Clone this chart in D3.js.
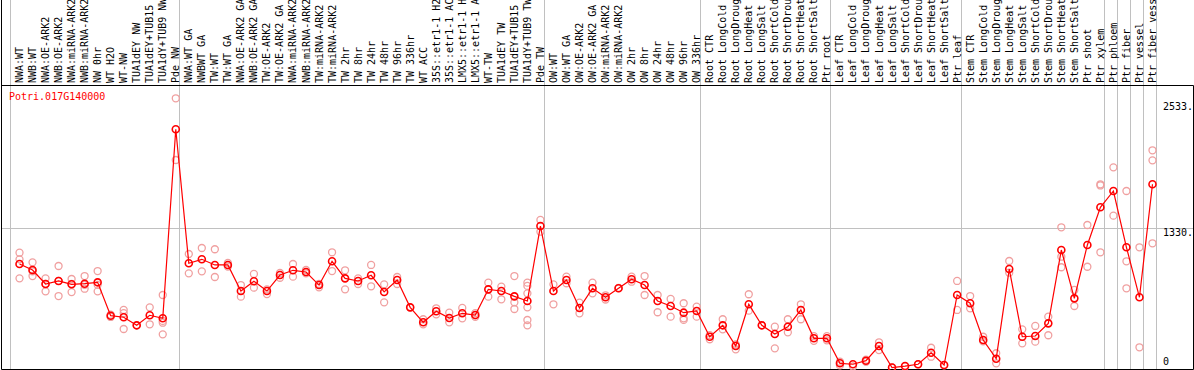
<!DOCTYPE html>
<html>
<head>
<meta charset="utf-8">
<script src="https://cdn.jsdelivr.net/npm/d3@7"></script>
<style>
  html, body { margin: 0; padding: 0; background: #fff; }
  svg { display: block; }
  text { font-family: "DejaVu Sans Mono", monospace; font-size: 10px; }
</style>
</head>
<body>
<svg id="chart" width="1194" height="370"></svg>
<script>
const geneName = "Potri.017G140000";

const categories = [
  "NWA:WT","NWB:WT","NWA:OE-ARK2","NWB:OE-ARK2","NWA:miRNA-ARK2","NWB:miRNA-ARK2","NW 0hr","WT H2O","WT-NW","TUA1dEY NW","TUA1dEY+TUB15","TUA1dY+TUB9 NW","Pde NW",
  "NWA:WT GA","NWBWT GA","TW:WT","TW:WT GA","NWA:OE-ARK2 GA","NWB:OE-ARK2 GA","TW:OE-ARK2","TW:OE-ARK2 GA","NWA:miRNA-ARK2 GA","NWB:miRNA-ARK2 GA","TW:miRNA-ARK2","TW:miRNA-ARK2 GA","TW 2hr","TW 8hr","TW 24hr","TW 48hr","TW 96hr","TW 336hr","WT ACC","35S::etr1-1 H2O","35S::etr1-1 ACC","LMX5::etr1-1 H2O","LMX5::etr1-1 ACC","WT-TW","TUA1dEY TW","TUA1dEY+TUB15","TUA1dY+TUB9 TW","Pde TW",
  "OW:WT","OW:WT GA","OW:OE-ARK2","OW:OE-ARK2 GA","OW:miRNA-ARK2","OW:miRNA-ARK2 GA","OW 2hr","OW 8hr","OW 24hr","OW 48hr","OW 96hr","OW 336hr",
  "Root CTR","Root LongCold","Root LongDrought","Root LongHeat","Root LongSalt","Root ShortCold","Root ShortDrought","Root ShortHeat","Root ShortSalt","Ptr root",
  "Leaf CTR","Leaf LongCold","Leaf LongDrought","Leaf LongHeat","Leaf LongSalt","Leaf ShortCold","Leaf ShortDrought","Leaf ShortHeat","Leaf ShortSalt","Ptr leaf",
  "Stem CTR","Stem LongCold","Stem LongDrought","Stem LongHeat","Stem LongSalt","Stem ShortCold","Stem ShortDrought","Stem ShortHeat","Stem ShortSalt","Ptr shoot","Ptr xylem",
  "Ptr phloem","Ptr fiber","Ptr vessel","Ptr fiber vessel"
];

// index of first category of each group
const groupStarts = [0, 13, 41, 53, 63, 73, 84, 85, 86, 87, 88];

const meanValues = [
  989, 932, 798, 827, 795, 801, 814, 495, 480, 403, 499, 470, 2277,
  996, 1034, 980, 980, 731, 824, 731, 884, 929, 913, 788, 1015, 852, 827, 881, 722, 836, 575, 432, 537, 473, 518, 502, 747, 731, 680, 636, 1352,
  731, 836, 569, 757, 671, 757, 843, 788, 636, 588, 524, 540,
  294, 403, 205, 604, 403, 320, 390, 550, 279, 279,
  40, 31, 65, 205, 0, 14, 31, 141, 24, 693,
  614, 263, 84, 941, 294, 301, 422, 1123, 661, 1171, 1531,
  1687, 1149, 671, 1751
];

const replicateValues = [
  [1097,1034,852],[1005,920,874],[852,728,800],[970,683,827],[846,721,800],[874,753,790],[922,728,790],[483,505],[550,368,520],[403],[575,413],[693,428,317,445],[2573,1983],
  [1085,900],[1142,919],[1130,865],[999,965],[788,677],[894,763],[747,702],[903,858],[989,868],[932,900],[766,800],[1101,922],[929,747],[852,798],[980,776],[795,623],[865,798],[575],[461,413],[566,508],[524,432],[569,470],[520,485],[811,677],[773,652],[874,623,559],[811,780,709,575,454,403],[1410,1298],
  [795,604],[868,805],[620,518],[811,709],[690,650],[760],[868,820],[874,693],[693,528],[655,486],[614,470,455],[582,486],
  [310,270],[461,365],[220,174],[700,543],[403],[390,183],[461,336],[604,461],[300,255],[300,260],
  [55,20],[10],[75,55],[241,167],[0],[10],[30],[189,103],[20],[827,550],
  [683,566],[294,250],[136,40],[1018,906],[365,231],[397,247],[486,308],[1340,1059,958],[741,588],[1362,963],[1751,1740,1101],
  [1913,1451],[1687,1015,757],[1149,193],[2076,1980,1187]
];

const tickValues = [0, 1330, 2533];
const tickLabels = ["0", "1330.", "2533."];

const W = 1194, H = 370;
const headerY = 85.5, bottomY = 369.5, leftX = 1.5, rightX = 1193.5;
const plotLeft = 10, plotRight = 1156;

const svg = d3.select("#chart");
svg.append("rect").attr("width", W).attr("height", H).attr("fill", "#fff");

const x = d3.scaleBand().domain(d3.range(categories.length)).range([plotLeft, plotRight]).paddingInner(0).paddingOuter(0);
const step = x.step();
const px = i => x(i) + step * 0.73;
const y = d3.scaleLinear().domain([0, 2700]).range([367.5, 85]);

// group separator lines
svg.append("g").selectAll("line").data(groupStarts).join("line")
  .attr("x1", d => Math.round(x(d === categories.length ? d - 1 : d) + (d === categories.length ? step : 0)) + 0.5)
  .attr("x2", d => Math.round(x(d === categories.length ? d - 1 : d) + (d === categories.length ? step : 0)) + 0.5)
  .attr("y1", 0).attr("y2", bottomY)
  .attr("stroke", "#c0c0c0").attr("stroke-width", 1);

// horizontal grid line at middle tick
svg.append("line")
  .attr("x1", leftX).attr("x2", rightX)
  .attr("y1", Math.round(y(tickValues[1])) + 0.5).attr("y2", Math.round(y(tickValues[1])) + 0.5)
  .attr("stroke", "#c0c0c0").attr("stroke-width", 1);

// frame
svg.append("line").attr("x1", leftX).attr("x2", leftX).attr("y1", 0).attr("y2", bottomY).attr("stroke", "#000");
svg.append("line").attr("x1", rightX).attr("x2", rightX).attr("y1", headerY).attr("y2", bottomY).attr("stroke", "#000");
svg.append("line").attr("x1", leftX).attr("x2", rightX).attr("y1", headerY).attr("y2", headerY).attr("stroke", "#000");
svg.append("line").attr("x1", leftX).attr("x2", rightX).attr("y1", bottomY).attr("y2", bottomY).attr("stroke", "#000");

// category labels (rotated)
svg.append("g").selectAll("text").data(categories).join("text")
  .attr("transform", (d, i) => `translate(${px(i)},83) rotate(-90)`)
  .attr("dy", "0.35em")
  .attr("text-anchor", "start")
  .attr("fill", "#000")
  .text(d => d);

// right axis labels
svg.append("g").selectAll("text").data(tickValues).join("text")
  .attr("x", 1163)
  .attr("y", (d, i) => Math.min(y(d) + 8, 365))
  .attr("fill", "#000")
  .text((d, i) => tickLabels[i]);

// title
svg.append("text").attr("x", 9).attr("y", 100).attr("fill", "#ff0000").text(geneName);

// replicates
const reps = [];
replicateValues.forEach((arr, i) => arr.forEach(v => reps.push({ i, v })));
svg.append("g").selectAll("circle").data(reps).join("circle")
  .attr("cx", d => px(d.i)).attr("cy", d => y(d.v)).attr("r", 3.5)
  .attr("fill", "none").attr("stroke", "#f0a0a0").attr("stroke-width", 1.3);

// mean line
svg.append("path")
  .datum(meanValues)
  .attr("d", d3.line().x((d, i) => px(i)).y(d => y(d)))
  .attr("fill", "none").attr("stroke", "#ff0000").attr("stroke-width", 1.2);

// mean circles
svg.append("g").selectAll("circle").data(meanValues).join("circle")
  .attr("cx", (d, i) => px(i)).attr("cy", d => y(d)).attr("r", 3.5)
  .attr("fill", "none").attr("stroke", "#ff0000").attr("stroke-width", 1.6);
</script>
</body>
</html>
